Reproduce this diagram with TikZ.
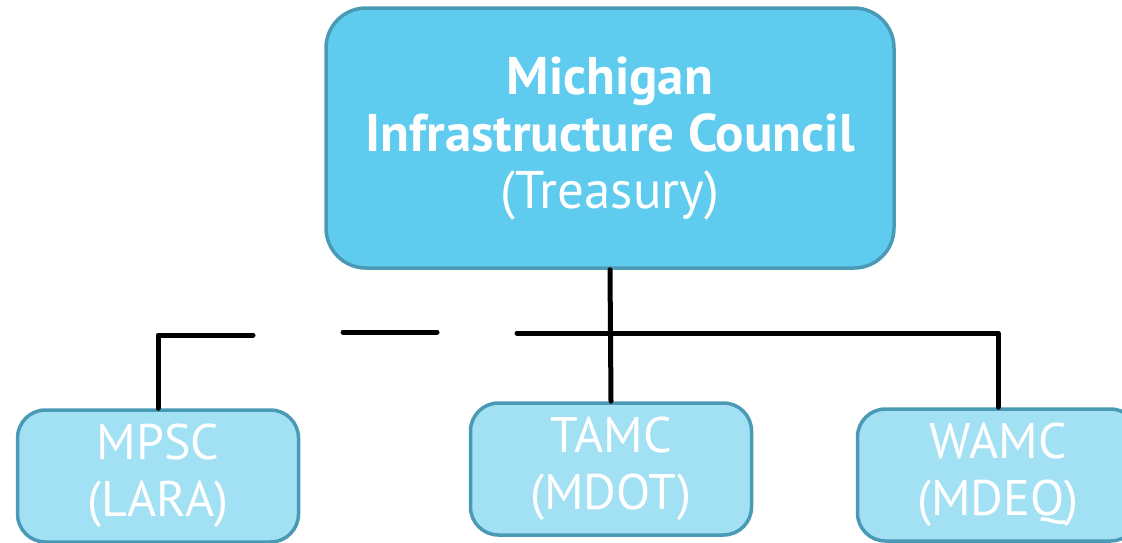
\documentclass[tikz,border=0pt]{standalone}
\usepackage{fontspec}
\setmainfont{PT Sans}
\definecolor{topfill}{HTML}{5FCBEE}
\definecolor{subfill}{HTML}{A2E0F4}
\definecolor{boxline}{HTML}{4A9AB6}
\begin{document}
\begin{tikzpicture}[x=1pt,y=-1pt,
  topbox/.style={draw=boxline, fill=topfill, line width=3.5pt, rounded corners=40pt,
    text=white, align=center, inner sep=0pt, minimum width=568pt, minimum height=260pt,
    font=\fontsize{53}{57}\selectfont},
  subbox/.style={draw=boxline, fill=subfill, line width=3.5pt, rounded corners=28pt,
    text=white, align=center, inner sep=0pt, minimum width=281pt, minimum height=132pt,
    font=\fontsize{50}{57}\selectfont},
  conn/.style={line width=5pt, line cap=round, line join=round, black}]
\path[use as bounding box] (0,0) rectangle (1122,542);
\node[topbox] (top) at (610,138) {\textbf{Michigan}\\\textbf{Infrastructure Council}\\(Treasury)};
\node[subbox] (mpsc) at (158,476) {MPSC\\(LARA)};
\node[subbox] (tamc) at (611,469) {TAMC\\(MDOT)};
\node[subbox] (wamc) at (998,475) {WAMC\\(MDEQ)};
\coordinate (b1) at (253,335);
\coordinate (b2) at (343,332);
\coordinate (b3) at (437,332);
\coordinate (b4) at (517,333);
\draw[conn] (top.south) -- (tamc.north);
\draw[conn] (mpsc.north) |- (b1);
\draw[conn] (b2) -- (b3);
\draw[conn] (b4) -| (wamc.north);
\end{tikzpicture}
\end{document}
